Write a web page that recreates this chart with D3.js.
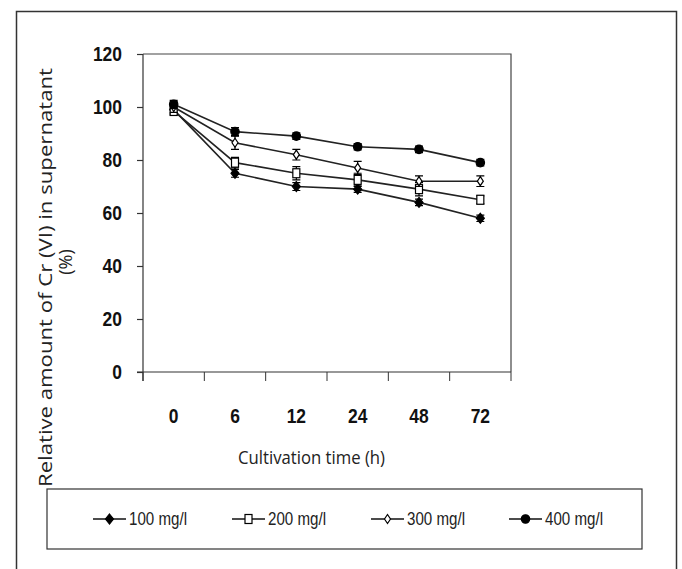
<!DOCTYPE html>
<html>
<head>
<meta charset="utf-8">
<script src="https://cdn.jsdelivr.net/npm/d3@7"></script>
<style>
  body { margin: 0; background: #fff; }
  svg { display: block; }
  .tick text { font-family: "Liberation Sans", Arial, sans-serif; font-weight: bold; font-size: 21px; fill: #111; }
  .title { font-family: "Open Sans", sans-serif; font-size: 18px; fill: #222; }
  .legend text { font-family: "Liberation Sans", Arial, sans-serif; font-size: 18px; fill: #222; }
</style>
</head>
<body>
<svg id="chart" width="682" height="569"></svg>
<script>
var times = ['0', '6', '12', '24', '48', '72'];
var yTicks = [0, 20, 40, 60, 80, 100, 120];
var seriesNames = ['100 mg/l', '200 mg/l', '300 mg/l', '400 mg/l'];
var s100 = [99, 75, 70, 69, 64, 58];
var s200 = [98.5, 79, 75, 72.5, 69, 65];
var s300 = [100, 86.5, 82, 77, 72, 72];
var s400 = [101, 90.7, 89, 85, 84, 79];
var err100 = [1.5, 1.5, 1.5, 1.2, 1.2, 1.2];
var err200 = [1.5, 2, 2.5, 2.5, 2.5, 1.5];
var err300 = [2, 2.5, 2, 2.5, 2, 2];
var err400 = [1.5, 1.5, 1.2, 1.2, 1.2, 1.2];

var series = [
  {name: seriesNames[0], values: s100, err: err100, shape: 'diamond', fill: '#000'},
  {name: seriesNames[1], values: s200, err: err200, shape: 'square', fill: '#fff'},
  {name: seriesNames[2], values: s300, err: err300, shape: 'smalldiamond', fill: '#fff'},
  {name: seriesNames[3], values: s400, err: err400, shape: 'circle', fill: '#000'}
];

var svg = d3.select('#chart');

// outer frame, open at the bottom
svg.append('path')
    .attr('d', 'M16.5,569 V11.5 H676.5 V569')
    .attr('fill', 'none')
    .attr('stroke', '#333')
    .attr('stroke-width', 1.5);

var margin = {left: 143, top: 54, right: 511, bottom: 372};
var x = d3.scaleBand().domain(times).range([margin.left, margin.right]);
var y = d3.scaleLinear().domain([0, 120]).range([margin.bottom, margin.top]);

// top + right edge of the plot area
svg.append('path')
    .attr('d', 'M' + margin.left + ',' + margin.top + ' H' + margin.right + ' V' + margin.bottom)
    .attr('fill', 'none')
    .attr('stroke', '#444')
    .attr('stroke-width', 1.2);

var yAxis = svg.append('g')
    .attr('transform', 'translate(' + margin.left + ',0)')
    .call(d3.axisLeft(y).tickValues(yTicks).tickSize(6).tickPadding(15));
yAxis.select('.domain').attr('d', 'M0,' + margin.top + 'V' + (margin.bottom + 9));

var xAxis = svg.append('g')
    .attr('transform', 'translate(0,' + margin.bottom + ')')
    .call(d3.axisBottom(x).tickSize(0).tickPadding(36));
xAxis.select('.domain').attr('d', 'M' + (margin.left - 6) + ',0H' + margin.right);
xAxis.selectAll('.boundary')
    .data(d3.range(times.length + 1))
    .enter().append('line')
    .attr('x1', function(i) { return margin.left + i * x.step(); })
    .attr('x2', function(i) { return margin.left + i * x.step(); })
    .attr('y1', 0).attr('y2', 9)
    .attr('stroke', '#333');

svg.selectAll('.domain, .tick line').attr('stroke', '#333').attr('stroke-width', 1.2);
// condensed-looking tick labels
svg.selectAll('.tick text').each(function() {
  var t = d3.select(this);
  t.attr('textLength', t.text().length * 9.7).attr('lengthAdjust', 'spacingAndGlyphs');
});

svg.append('text')
    .attr('class', 'title')
    .attr('x', 238).attr('y', 464)
    .attr('textLength', 147)
    .attr('lengthAdjust', 'spacingAndGlyphs')
    .text('Cultivation time (h)');

var yTitle = svg.append('text')
    .attr('class', 'title')
    .attr('transform', 'translate(52,0) rotate(-90)');
yTitle.append('tspan')
    .attr('x', -487).attr('y', 0)
    .attr('textLength', 419)
    .attr('lengthAdjust', 'spacingAndGlyphs')
    .text('Relative amount of Cr (VI) in supernatant');
yTitle.append('tspan')
    .attr('x', -262).attr('y', 20)
    .attr('text-anchor', 'middle')
    .text('(%)');

function drawMarker(g, shape, fill) {
  if (shape === 'diamond') {
    g.append('path').attr('d', 'M0,-5 L4,0 L0,5 L-4,0 Z');
  } else if (shape === 'square') {
    g.append('rect').attr('x', -3.5).attr('y', -4.5).attr('width', 7).attr('height', 9);
  } else if (shape === 'smalldiamond') {
    g.append('path').attr('d', 'M0,-4.5 L3,0 L0,4.5 L-3,0 Z');
  } else {
    g.append('circle').attr('r', 4.2);
  }
  g.selectAll('*').attr('fill', fill).attr('stroke', '#000').attr('stroke-width', 1.2);
}

var line = d3.line()
    .x(function(d, i) { return x(times[i]) + x.bandwidth() / 2; })
    .y(function(d) { return y(d); });

series.forEach(function(s) {
  var g = svg.append('g');
  g.append('path')
      .datum(s.values)
      .attr('d', line)
      .attr('fill', 'none')
      .attr('stroke', '#222')
      .attr('stroke-width', 1.6);
  s.values.forEach(function(v, i) {
    var cx = x(times[i]) + x.bandwidth() / 2;
    var y1 = y(v + s.err[i]), y2 = y(v - s.err[i]);
    g.append('path')
        .attr('d', 'M' + cx + ',' + y1 + 'V' + y2 + 'M' + (cx - 4) + ',' + y1 + 'H' + (cx + 4) + 'M' + (cx - 4) + ',' + y2 + 'H' + (cx + 4))
        .attr('stroke', '#000')
        .attr('stroke-width', 1.2);
    drawMarker(g.append('g').attr('transform', 'translate(' + cx + ',' + y(v) + ')'), s.shape, s.fill);
  });
});

// legend
var legend = svg.append('g').attr('class', 'legend');
legend.append('rect')
    .attr('x', 47).attr('y', 489).attr('width', 595).attr('height', 60)
    .attr('fill', 'none').attr('stroke', '#333').attr('stroke-width', 1.2);
var legX = [93, 232, 371, 509];
series.forEach(function(s, i) {
  var g = legend.append('g').attr('transform', 'translate(' + legX[i] + ',519)');
  g.append('line').attr('x1', 0).attr('x2', 33).attr('stroke', '#111').attr('stroke-width', 1.6);
  drawMarker(g.append('g').attr('transform', 'translate(16.5,0)'), s.shape, s.fill);
  g.append('text')
      .attr('x', 36).attr('y', 6)
      .attr('textLength', 58)
      .attr('lengthAdjust', 'spacingAndGlyphs')
      .text(s.name);
});
</script>
</body>
</html>
